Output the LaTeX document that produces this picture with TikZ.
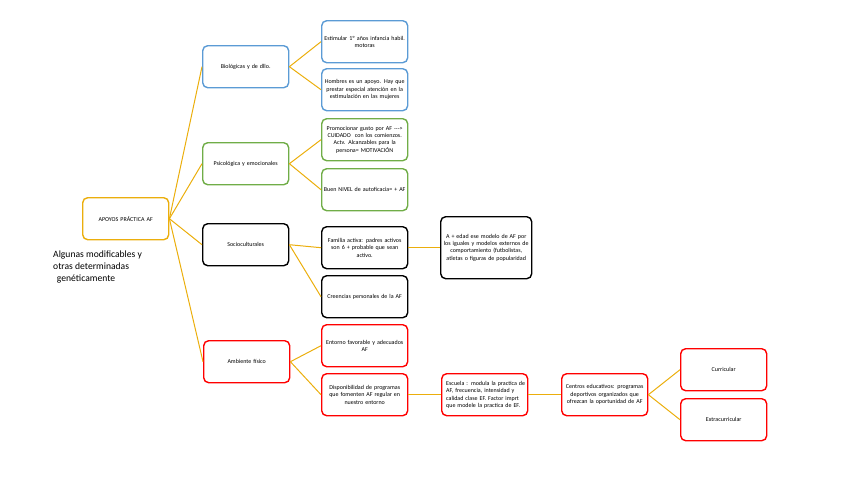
\documentclass[tikz,border=0pt]{standalone}
\usepackage{fontspec}
\setmainfont{Carlito}
\definecolor{gold}{HTML}{EBAE0C}
\definecolor{bblue}{HTML}{5B9BD5}
\definecolor{bgreen}{HTML}{70AD47}
\definecolor{bred}{HTML}{FF0000}
\newcommand{\jline}[1]{\leavevmode\hbox to 77pt{#1}}
\tikzset{
  box/.style={draw, line width=1.4pt, rounded corners=5pt, fill=white, anchor=north west,
    minimum width=86pt, minimum height=42pt, text width=84pt, align=center, inner sep=1pt,
    font=\fontsize{6}{7.4}\selectfont},
  bluebox/.style={box, draw=bblue},
  greenbox/.style={box, draw=bgreen},
  blackbox/.style={box, draw=black},
  redbox/.style={box, draw=bred},
  goldbox/.style={box, draw=gold},
  link/.style={draw=gold, line width=1pt}
}
\begin{document}
\begin{tikzpicture}[x=1pt,y=-1pt]
\useasboundingbox (0,0) rectangle (848,477);
% nodes
\node[goldbox] (root) at (82,197) {APOYOS PRÁCTICA AF};
\node[anchor=north west, align=left, inner sep=0pt, font=\fontsize{9.6}{12}\selectfont] (note) at (53,251) {Algunas modificables y\\otras determinadas\\\ \,genéticamente};

\node[bluebox] (bio) at (202,45) {Biológicas y de dllo.};
\node[bluebox] (est) at (321,20) {Estimular 1º años infancia habil.\\motoras};
\node[bluebox] (hom) at (321,68) {Hombres es un apoyo. Hay que\\prestar especial atención en la\\estimulación en las mujeres};

\node[greenbox] (psi) at (202,142) {Psicológica y emocionales};
\node[greenbox] (pro) at (321,118) {Promocionar gusto por AF -{}-{}->\\CUIDADO \ con los comienzos.\\Actv. Alcanzables para la\\persona= MOTIVACIÓN};
\node[greenbox] (bue) at (321,168) {Buen NIVEL de autoficacia= + AF};

\node[blackbox] (soc) at (202,223) {Socioculturales};
\node[blackbox] (fam) at (321,226) {Familia activa: padres activos\\son 6 + probable que sean\\activo.};
\node[blackbox] (cre) at (321,275) {Creencias personales de la AF};
\node[blackbox, minimum width=91pt, minimum height=62pt, text width=89pt] (eda) at (440,216) {A + edad ese modelo de AF por\\los iguales y modelos externos de\\comportamiento (futbolistas,\\atletas o figuras de popularidad};

\node[redbox] (amb) at (203,340) {Ambiente físico};
\node[redbox] (ent) at (321,324) {Entorno favorable y adecuados\\AF};
\node[redbox] (dis) at (321,373) {Disponibilidad de programas\\que fomenten AF regular en\\nuestro entorno};
\node[redbox] (esc) at (441,373) {\jline{Escuela : modula la practica de}\\\jline{AF, frecuencia, intensidad y}\\\jline{calidad clase EF. Factor imprt}\\\jline{que modele la practica de EF.}};
\node[redbox] (cen) at (561,373) {Centros educativos: programas\\deportivos organizados que\\ofrezcan la oportunidad de AF};
\node[redbox] (cur) at (680,348) {Curricular};
\node[redbox] (ext) at (680,398) {Extracurricular};

% links
\draw[link] (root.east) -- (bio.west);
\draw[link] (root.east) -- (psi.west);
\draw[link] (root.east) -- (soc.west);
\draw[link] (root.east) -- (amb.west);
\draw[link] (bio.east) -- (est.west);
\draw[link] (bio.east) -- (hom.west);
\draw[link] (psi.east) -- (pro.west);
\draw[link] (psi.east) -- (bue.west);
\draw[link] (soc.east) -- (fam.west);
\draw[link] (soc.east) -- (cre.west);
\draw[link] (fam.east) -- (eda.west);
\draw[link] (amb.east) -- (ent.west);
\draw[link] (amb.east) -- (dis.west);
\draw[link] (dis.east) -- (esc.west);
\draw[link] (esc.east) -- (cen.west);
\draw[link] (cen.east) -- (cur.west);
\draw[link] (cen.east) -- (ext.west);
\end{tikzpicture}
\end{document}
